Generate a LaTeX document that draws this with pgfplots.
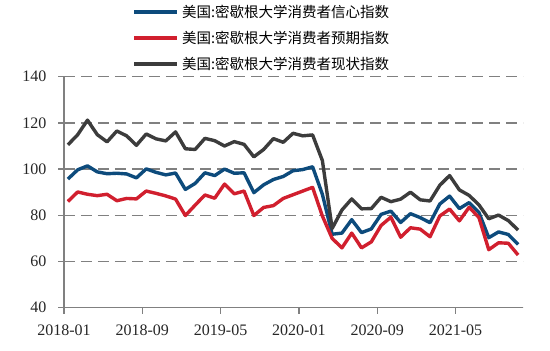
\documentclass[border=0pt]{standalone}
\usepackage{pgfplots}
\pgfplotsset{compat=1.18}
\usepackage{pgfplotstable}
\usepackage{fontspec}
\setmainfont{Liberation Serif}
\newfontfamily\cjk{Noto Sans CJK SC}
\definecolor{cblue}{HTML}{0D4B7C}
\definecolor{cred}{HTML}{D11F2E}
\definecolor{cgray}{HTML}{3C3C3C}
\definecolor{gridgray}{HTML}{808080}
\pgfplotstableread{
x ics ice icc
0 95.7 86.0 110.5
1 99.7 90.1 114.9
2 101.4 89.1 121.2
3 98.8 88.5 114.9
4 98.0 89.1 111.8
5 98.2 86.3 116.5
6 97.9 87.3 114.4
7 96.2 87.1 110.3
8 100.1 90.5 115.2
9 98.6 89.5 113.1
10 97.5 88.4 112.2
11 98.3 87.0 116.1
12 91.2 79.9 108.8
13 93.8 84.4 108.5
14 98.4 88.8 113.3
15 97.2 87.4 112.3
16 100.0 93.5 110.0
17 98.2 89.3 111.9
18 98.4 90.5 110.7
19 89.8 79.9 105.3
20 93.2 83.4 108.5
21 95.5 84.2 113.2
22 96.8 87.3 111.6
23 99.3 88.9 115.5
24 99.8 90.5 114.4
25 101.0 92.1 114.8
26 89.1 79.7 103.7
27 71.8 70.0 74.3
28 72.3 65.9 82.3
29 78.1 72.3 87.1
30 72.5 65.9 82.8
31 74.1 68.5 82.9
32 80.4 75.6 87.8
33 81.8 79.2 85.9
34 76.9 70.5 87.0
35 80.7 74.6 90.0
36 79.0 74.0 86.7
37 76.8 70.7 86.2
38 84.9 79.7 93.0
39 88.3 82.7 97.2
40 82.9 77.6 91.0
41 85.5 83.5 88.6
42 81.2 79.0 84.5
43 70.3 65.1 78.5
44 72.8 68.1 80.1
45 71.7 67.9 77.7
46 67.4 62.8 73.6
}\datatable
\begin{document}
\begin{tikzpicture}
\begin{axis}[
  name=ax,
  scale only axis,
  width=459pt, height=231pt,
  xmin=-0.4, xmax=46.5,
  ymin=40, ymax=140,
  ytick={40,60,80,100,120,140},
  xtick={-0.4,7.6,15.6,23.6,31.6,39.6},
  xticklabels={2018-01,2018-09,2019-05,2020-01,2020-09,2021-05},
  axis lines*=left,
  axis line style={gridgray, line width=1.5pt},
  tick style={gridgray, line width=1.3pt},
  major tick length=6pt,
  xtick align=outside, ytick align=outside,
  ymajorgrids,
  major grid style={gridgray, line width=1.5pt, dash pattern=on 11pt off 6pt},
  tick label style={font=\fontsize{16}{18}\selectfont, text=black!85},
  /pgf/number format/assume math mode=true,
  yticklabel style={xshift=-8pt},
  xticklabel style={yshift=-8pt},
  legend cell align=left,
  legend style={at={(axis description cs:0.148,1.318)}, anchor=north west,
    draw=none, fill=none, inner sep=0pt, row sep=8pt,
    font=\cjk\fontsize{14.5}{17}\selectfont,
    nodes={inner xsep=3pt, inner ysep=2pt}},
  legend image code/.code={\draw[#1, line width=4pt] (0pt,0pt) -- (43pt,0pt);},
  every axis plot/.append style={line width=3.4pt, line join=round},
]
\addplot[cblue, mark=none] table[x=x, y=ics] {\datatable};
\addlegendentry{美国:密歇根大学消费者信心指数}
\addplot[cred, mark=none] table[x=x, y=ice] {\datatable};
\addlegendentry{美国:密歇根大学消费者预期指数}
\addplot[cgray, mark=none] table[x=x, y=icc] {\datatable};
\addlegendentry{美国:密歇根大学消费者现状指数}
\end{axis}
\pgfresetboundingbox
\path ([xshift=-64pt,yshift=-43.3pt]ax.south west) rectangle ([xshift=27pt,yshift=76.7pt]ax.north east);
\end{tikzpicture}
\end{document}
